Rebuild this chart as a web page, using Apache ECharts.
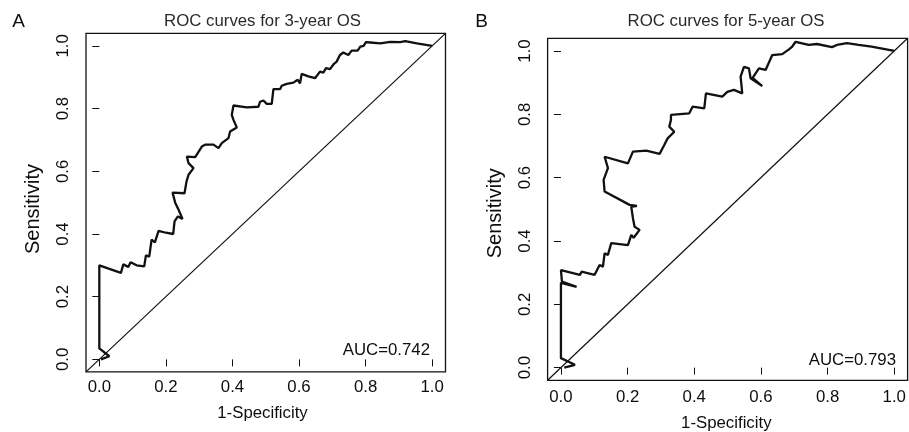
<!DOCTYPE html>
<html>
<head>
<meta charset="utf-8">
<script src="https://cdn.jsdelivr.net/npm/echarts@6/dist/echarts.min.js"></script>
<style>
html,body{margin:0;padding:0;background:#fff;}
#chart{width:909px;height:432px;}
</style>
</head>
<body>
<div id="chart"></div>
<script>
// ---- Data ----
const tickValues = [0, 0.2, 0.4, 0.6, 0.8, 1.0];
const axisRange = [-0.04, 1.04];
const diagonal = [[-0.04, -0.04], [1.04, 1.04]];

// Panel A: ROC curve for 3-year OS (1-Specificity, Sensitivity)
const fprA = [0.005,0.03,0.0,0.0,0.065,0.072,0.087,0.094,0.112,0.135,0.14,0.15,0.157,0.167,0.178,0.2,0.222,0.226,0.232,0.236,0.25,0.237,0.228,0.22,0.256,0.262,0.268,0.283,0.268,0.263,0.288,0.308,0.318,0.343,0.358,0.368,0.388,0.393,0.413,0.403,0.398,0.403,0.443,0.478,0.483,0.493,0.503,0.518,0.523,0.543,0.548,0.563,0.583,0.596,0.603,0.608,0.628,0.648,0.663,0.673,0.681,0.693,0.705,0.713,0.723,0.733,0.748,0.758,0.776,0.784,0.794,0.801,0.814,0.844,0.874,0.904,0.919,0.954,1.0];
const tprA = [0.0,0.01,0.035,0.30,0.276,0.303,0.295,0.31,0.30,0.297,0.332,0.328,0.382,0.373,0.41,0.404,0.40,0.44,0.437,0.456,0.448,0.48,0.50,0.532,0.53,0.568,0.589,0.61,0.626,0.647,0.645,0.679,0.685,0.685,0.674,0.69,0.706,0.727,0.74,0.764,0.78,0.81,0.804,0.806,0.822,0.826,0.815,0.815,0.862,0.862,0.873,0.879,0.883,0.892,0.881,0.911,0.903,0.897,0.918,0.915,0.929,0.926,0.943,0.95,0.971,0.979,0.971,0.985,0.985,0.998,1.0,1.012,1.011,1.008,1.013,1.012,1.015,1.008,1.0];

// Panel B: ROC curve for 5-year OS
const fprB = [0.01,0.042,0.0,0.0,0.047,0.003,0.0,0.057,0.062,0.101,0.116,0.126,0.131,0.141,0.151,0.201,0.211,0.218,0.236,0.221,0.216,0.211,0.228,0.206,0.131,0.128,0.141,0.131,0.201,0.216,0.256,0.296,0.31,0.32,0.34,0.325,0.33,0.33,0.385,0.395,0.43,0.435,0.484,0.499,0.519,0.544,0.539,0.549,0.564,0.569,0.604,0.575,0.594,0.614,0.634,0.664,0.684,0.694,0.704,0.743,0.768,0.813,0.828,0.858,0.893,0.932,1.0];
const tprB = [0.0,0.009,0.03,0.268,0.255,0.272,0.308,0.293,0.303,0.293,0.324,0.319,0.361,0.356,0.393,0.387,0.419,0.41,0.435,0.445,0.472,0.508,0.511,0.514,0.556,0.593,0.63,0.666,0.645,0.682,0.685,0.675,0.703,0.724,0.745,0.761,0.782,0.798,0.803,0.824,0.819,0.866,0.856,0.871,0.877,0.866,0.919,0.95,0.945,0.914,0.889,0.915,0.945,0.94,0.987,0.99,1.005,1.014,1.029,1.019,1.022,1.012,1.019,1.025,1.019,1.014,1.0];

const titles = ['ROC curves for 3-year OS', 'ROC curves for 5-year OS'];
const aucLabels = ['AUC=0.742', 'AUC=0.793'];
const panelLetters = ['A', 'B'];

// ---- Build chart ----
const zip = (xs, ys) => xs.map((x, i) => [x, ys[i]]);
const FONT = 'Liberation Sans, Arial, Helvetica, sans-serif';
const TXT = '#0d0d0d';

const grids = [
  {left: 86, top: 33.4, width: 359.5, height: 338.5},
  {left: 547.6, top: 38.3, width: 360, height: 342}
];

function xAxisFor(i, margin) {
  return {
    type: 'value', gridIndex: i, min: axisRange[0], max: axisRange[1],
    axisLine: {show: false},
    splitLine: {show: false},
    axisTick: {show: true, customValues: tickValues, length: 7, inside: false, lineStyle: {color: '#111', width: 1}},
    axisLabel: {show: true, customValues: tickValues, margin: margin, color: TXT, fontSize: 16.8, fontFamily: FONT,
      formatter: v => Number(v).toFixed(1)}
  };
}
function yAxisFor(i, margin) {
  return {
    type: 'value', gridIndex: i, min: axisRange[0], max: axisRange[1],
    axisLine: {show: false},
    splitLine: {show: false},
    axisTick: {show: true, customValues: tickValues, length: 7, inside: false, lineStyle: {color: '#111', width: 1}},
    axisLabel: {show: true, customValues: tickValues, margin: margin, rotate: 90, color: TXT, fontSize: 16.8, fontFamily: FONT,
      formatter: v => Number(v).toFixed(1)}
  };
}

function textEl(text, x, y, opts) {
  return {
    type: 'text', x: x, y: y, silent: true,
    style: Object.assign({text: text, fill: TXT, font: '16.8px ' + FONT, align: 'center', verticalAlign: 'middle'}, opts || {})
  };
}

const chart = echarts.init(document.getElementById('chart'), null, {renderer: 'canvas'});
chart.setOption({
  backgroundColor: '#ffffff',
  animation: false,
  grid: grids.map(g => Object.assign({show: true, borderColor: '#111', borderWidth: 1.3, backgroundColor: 'transparent', containLabel: false}, g)),
  xAxis: [xAxisFor(0, 7), xAxisFor(1, 9)],
  yAxis: [yAxisFor(0, 14), yAxisFor(1, 14)],
  series: [
    {type: 'line', xAxisIndex: 0, yAxisIndex: 0, data: diagonal, showSymbol: false, lineStyle: {color: '#111', width: 1.2}, silent: true},
    {type: 'line', xAxisIndex: 0, yAxisIndex: 0, data: zip(fprA, tprA), showSymbol: false, lineStyle: {color: '#111', width: 2.3}, silent: true},
    {type: 'line', xAxisIndex: 1, yAxisIndex: 1, data: diagonal, showSymbol: false, lineStyle: {color: '#111', width: 1.2}, silent: true},
    {type: 'line', xAxisIndex: 1, yAxisIndex: 1, data: zip(fprB, tprB), showSymbol: false, lineStyle: {color: '#111', width: 2.3}, silent: true}
  ],
  graphic: [
    textEl(panelLetters[0], 18.5, 21.5, {font: '19px ' + FONT}),
    textEl(panelLetters[1], 481.5, 21.5, {font: '19px ' + FONT}),
    textEl(titles[0], 262.5, 21.5, {fill: '#2a2a2a'}),
    textEl(titles[1], 726, 21.5, {fill: '#2a2a2a'}),
    textEl('1-Specificity', 262.5, 413),
    textEl('1-Specificity', 726.3, 423),
    Object.assign(textEl('Sensitivity', 33.3, 209, {font: '20px ' + FONT}), {rotation: Math.PI / 2}),
    Object.assign(textEl('Sensitivity', 495, 213.3, {font: '20px ' + FONT}), {rotation: Math.PI / 2}),
    textEl(aucLabels[0], 430, 350, {align: 'right'}),
    textEl(aucLabels[1], 896, 360.5, {align: 'right'})
  ]
});
</script>
</body>
</html>
